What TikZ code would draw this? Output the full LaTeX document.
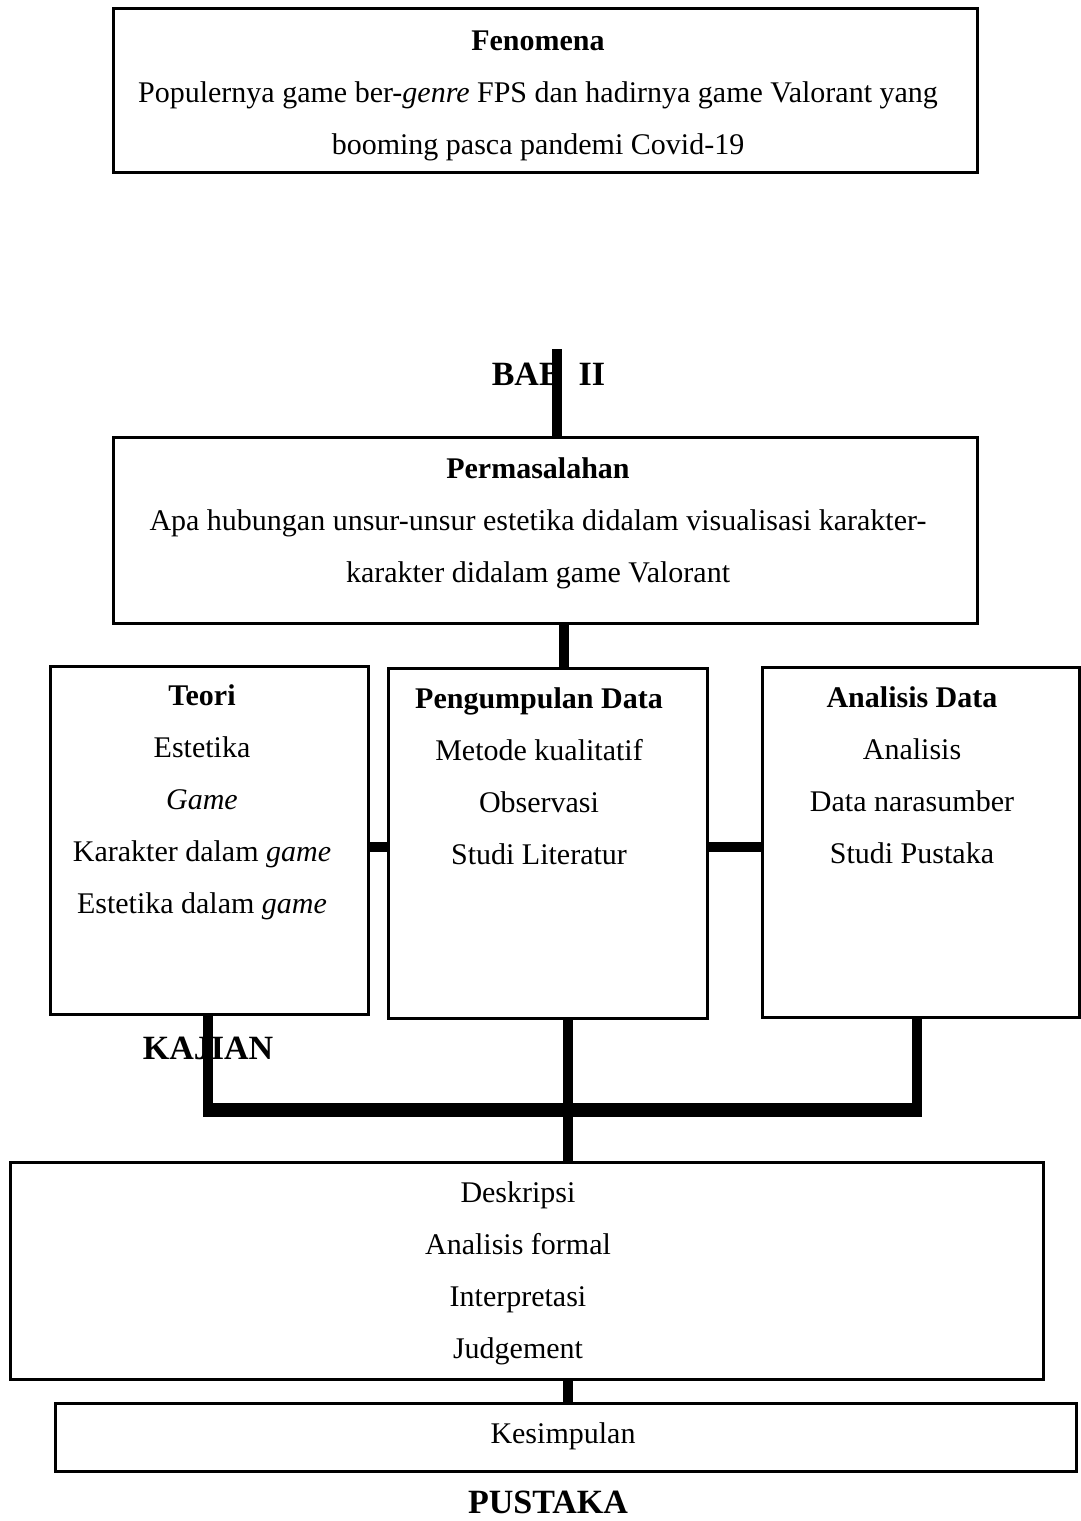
\documentclass[tikz,border=0pt]{standalone}
\usepackage{fontspec}
\setmainfont{Liberation Serif}
\usepackage{tikz}

\tikzset{
	box/.style = {rectangle, draw, line width = 1.5pt, inner sep = 0pt},
	boxtext/.style = {align = center, inner sep = 0pt, anchor = north, font = \fontsize{15}{26}\selectfont},
	babtext/.style = {inner sep = 0pt, font = \fontsize{17}{20}\selectfont\bfseries},
	conn/.style = {line width = 5pt},
	bar/.style = {line width = 7pt}
}

\begin{document}
\begin{tikzpicture}[x = 0.5pt, y = -0.5pt]

\useasboundingbox (0, 0) rectangle (1081, 1521);

%% Draw Fenomena

\node[box, minimum width = 432pt, minimum height = 82pt] (fenomena) at (545, 90) {};

\node[boxtext] (fenomenatext) at (538, 30) {\textbf{Fenomena}\\
	Populernya game ber-\textit{genre} FPS dan hadirnya game Valorant yang\\
	booming pasca pandemi Covid-19};

%% Draw BAB II

\node[babtext] (bab) at (548.5, 374) {BAB\enspace II};

%% Draw Permasalahan

\node[box, minimum width = 432pt, minimum height = 93pt] (masalah) at (545, 530) {};

\node[boxtext] (masalahtext) at (538, 457) {\textbf{Permasalahan}\\
	Apa hubungan unsur-unsur estetika didalam visualisasi karakter-\\
	karakter didalam game Valorant};

%% Draw Teori, Pengumpulan Data, Analisis Data

\node[box, minimum width = 159pt, minimum height = 174pt] (teori) at (209, 840) {};

\node[boxtext] (teoritext) at (202, 684) {\textbf{Teori}\\ Estetika\\ \textit{Game}\\
	Karakter dalam \textit{game}\\ Estetika dalam \textit{game}};

\node[box, minimum width = 159.5pt, minimum height = 175pt] (kumpul) at (547.5, 843) {};

\node[boxtext] (kumpultext) at (539, 687) {\textbf{Pengumpulan Data}\\ Metode kualitatif\\
	Observasi\\ Studi Literatur};

\node[box, minimum width = 158.5pt, minimum height = 175pt] (analisis) at (920.5, 842) {};

\node[boxtext] (analisistext) at (912, 686) {\textbf{Analisis Data}\\ Analisis\\
	Data narasumber\\ Studi Pustaka};

%% Draw KAJIAN

\node[babtext] (kajian) at (208, 1048) {KAJIAN};

%% Draw Deskripsi

\node[box, minimum width = 516.5pt, minimum height = 108.5pt] (deskripsi) at (526.5, 1270.5) {};

\node[boxtext] (deskripsitext) at (518, 1181) {Deskripsi\\ Analisis formal\\
	Interpretasi\\ Judgement};

%% Draw Kesimpulan

\node[box, minimum width = 510.5pt, minimum height = 34pt] (kesimpulan) at (565.5, 1437) {};

\node[boxtext] (kesimpulantext) at (563, 1422) {Kesimpulan};

%% Draw PUSTAKA

\node[babtext] (pustaka) at (548, 1502) {PUSTAKA};

%%% Draw Connectors

\coordinate (babtop) at (557, 349);
\coordinate (masalahout) at (564, 623);
\coordinate (midrow) at (0, 847);
\coordinate (kajianL) at (208, 1110);
\coordinate (kajianM) at (568, 1110);
\coordinate (kajianR) at (917, 1110);

\draw[conn] (babtop) -- (babtop |- masalah.north);

\draw[conn] (masalahout) -- (masalahout |- kumpul.north);

\draw[conn] (teori.east |- midrow) -- (kumpul.west |- midrow);

\draw[conn] (kumpul.east |- midrow) -- (analisis.west |- midrow);

\draw[conn] (teori.south -| kajianL) -- (kajianL);

\draw[conn] (kumpul.south -| kajianM) -- (kajianM);

\draw[conn] (analisis.south -| kajianR) -- (kajianR);

\draw[bar] ([xshift = -2.5pt]kajianL) -- ([xshift = 2.5pt]kajianR);

\draw[conn] (kajianM) -- (kajianM |- deskripsi.north);

\draw[conn] (deskripsi.south -| kajianM) -- (kajianM |- kesimpulan.north);

\end{tikzpicture}
\end{document}
